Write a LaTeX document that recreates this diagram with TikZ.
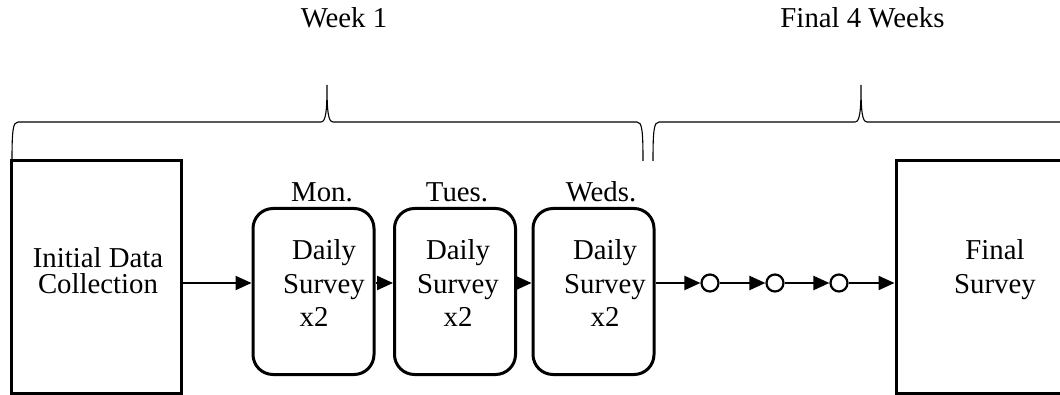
\documentclass[tikz,border=0pt]{standalone}
\usepackage{fontspec}
\setmainfont{Liberation Serif}
\usetikzlibrary{arrows.meta}
\begin{document}
\begin{tikzpicture}[x=0.5pt,y=-0.5pt,
  box/.style={draw, line width=1.5pt, inner sep=0pt},
  daybox/.style={box, rounded corners=10pt, minimum width=60.5pt, minimum height=83pt},
  bigbox/.style={box, minimum width=85pt, minimum height=116pt},
  lbl/.style={font=\fontsize{14.4}{16.75}\selectfont, inner sep=0pt},
  conn/.style={line width=1.1pt, -{Triangle[length=8pt,width=7pt]}},
  dot/.style={circle, draw, line width=1.1pt, minimum size=8.5pt, inner sep=0pt},
  brace/.style={line width=0.55pt}
]
\useasboundingbox (0,0) rectangle (1060,395);

% headings
\node[lbl, anchor=base] (wk1) at (344,28) {Week 1};
\node[lbl, anchor=base] (wk4) at (862.5,28) {Final 4 Weeks};

% braces
\draw[brace] (12,161) .. controls (12,130) and (13,122) .. (18,122) -- (321,122)
  .. controls (326,122) and (327,110) .. (327,85)
  .. controls (327,110) and (328,122) .. (333,122) -- (637,122)
  .. controls (642,122) and (643,130) .. (643,161);
\draw[brace] (653,161) .. controls (653,130) and (654,122) .. (659,122) -- (855,122)
  .. controls (860,122) and (861,110) .. (861,85)
  .. controls (861,110) and (862,122) .. (867,122) -- (1070,122);

% big boxes
\node[bigbox] (init) at (96,277) {};
\node[lbl, align=center, font=\fontsize{14.4}{13}\selectfont] (inittxt) at (98,271) {Initial Data\\Collection};
\node[bigbox, minimum width=99pt] (final) at (995,277) {};
\node[lbl, align=center, font=\fontsize{14.4}{17}\selectfont] (finaltxt) at (995,270) {Final\\Survey};

% daily boxes
\node[daybox] (mon) at (313.5,291.5) {};
\node[daybox] (tue) at (455,291.5) {};
\node[daybox] (wed) at (593.5,291.5) {};
\node[lbl, align=center] (montxt) at (324,283.5) {Daily\\Survey\\x2\hspace*{10pt}};
\node[lbl, align=center] (tuetxt) at (458,283.5) {Daily\\Survey\\x2};
\node[lbl, align=center] (wedtxt) at (605,283.5) {Daily\\Survey\\x2};
\node[lbl, anchor=base] (monlbl) at (322,202) {Mon.};
\node[lbl, anchor=base] (tuelbl) at (457,202) {Tues.};
\node[lbl, anchor=base] (wedlbl) at (601,202) {Weds.};

% circles
\node[dot] (c1) at (710,283) {};
\node[dot] (c2) at (775,283) {};
\node[dot] (c3) at (839,283) {};

% connectors
\draw[conn] (init.east |- c1) -- (mon.west |- c1);
\draw[conn] (mon.east |- c1) -- (tue.west |- c1);
\draw[conn] (tue.east |- c1) -- (wed.west |- c1);
\draw[conn] (wed.east |- c1) -- (c1.west);
\draw[conn] (c1.east) -- (c2.west);
\draw[conn] (c2.east) -- (c3.west);
\draw[conn] (c3.east) -- (final.west |- c3);
\end{tikzpicture}
\end{document}
